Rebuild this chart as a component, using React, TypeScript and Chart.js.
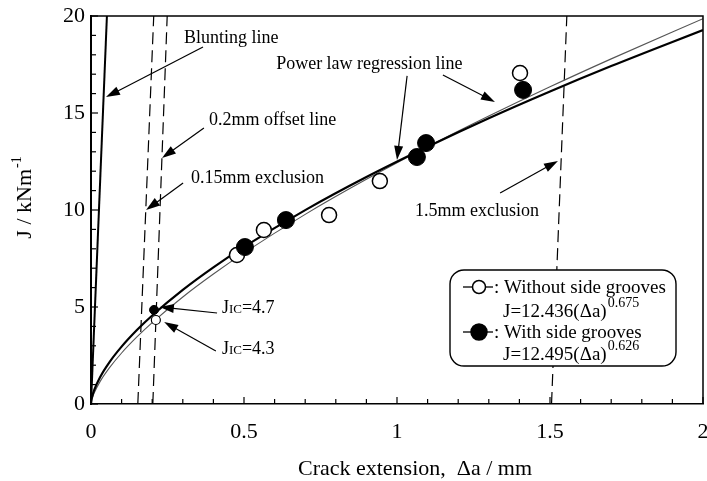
import { useEffect, useRef } from "react";
import { Chart, registerables } from "chart.js";

Chart.register(...registerables);

const FONT = "'Liberation Serif', 'Times New Roman', serif";

// Measured data (Δa in mm, J in kN/m)
const openX = [0.477, 0.565, 0.778, 0.944, 1.402];
const openJ = [7.68, 8.97, 9.74, 11.49, 17.06];
const filledX = [0.503, 0.637, 1.065, 1.095, 1.412];
const filledJ = [8.09, 9.48, 12.73, 13.45, 16.19];

// J_IC points
const jicOpenX = [0.212];
const jicOpenJ = [4.33];
const jicFilledX = [0.206];
const jicFilledJ = [4.85];

// Power-law regression curves
const curveX = [0, 0.001, 0.003, 0.01, 0.03, 0.06, 0.1, 0.15, 0.2, 0.3, 0.4, 0.5, 0.7, 0.9, 1.1, 1.3, 1.5, 1.7, 2.0];
const fitOpenJ = [0, 0.117, 0.246, 0.556, 1.166, 1.862, 2.629, 3.455, 4.196, 5.518, 6.699, 7.789, 9.775, 11.58, 13.26, 14.84, 16.35, 17.79, 19.86];
const fitFilledJ = [0, 0.165, 0.328, 0.699, 1.392, 2.148, 2.956, 3.811, 4.562, 5.88, 7.041, 8.097, 9.995, 11.7, 13.26, 14.73, 16.11, 17.42, 19.28];

// Construction lines
const bluntX = [0, 0.052];
const bluntJ = [0, 20];
const excl015X = [0.153, 0.205];
const offset02X = [0.202, 0.249];
const excl15X = [1.505, 1.555];
const fullJ = [0, 20];

// Axes
const xTickValues = [0, 0.5, 1, 1.5, 2];
const xTickLabels = ["0", "0.5", "1", "1.5", "2"];
const yTickValues = [0, 5, 10, 15, 20];
const yTickLabels = ["0", "5", "10", "15", "20"];

// Annotations (data coordinates)
const labelTexts = ["Blunting line", "Power law regression line", "0.2mm offset line", "0.15mm exclusion", "1.5mm exclusion"];
const labelX = [0.304, 0.605, 0.386, 0.327, 1.059];
const labelJ = [18.87, 17.53, 14.64, 11.65, 9.95];

const arrowFromX = [0.366, 1.033, 1.15, 0.369, 0.301, 1.337, 0.412, 0.408];
const arrowFromJ = [18.4, 16.91, 16.96, 14.23, 11.39, 10.88, 4.69, 2.73];
const arrowToX = [0.049, 1.0, 1.32, 0.232, 0.18, 1.526, 0.225, 0.239];
const arrowToJ = [15.82, 12.58, 15.57, 12.68, 10.0, 12.53, 5.0, 4.23];

const jicValues = ["4.7", "4.3"];
const jicLabelX = [0.428, 0.428];
const jicLabelJ = [5.0, 2.89];

const legendLines = ["Without side grooves", "With side grooves"];
const legendEqBase = ["J=12.436(Δa)", "J=12.495(Δa)"];
const legendEqExp = ["0.675", "0.626"];

const pts = (xs: number[], ys: number[]) => xs.map((x, i) => ({ x, y: ys[i] }));

const decoPlugin = {
  id: "deco",
  afterDatasetsDraw(chart: any) {
    const ctx: CanvasRenderingContext2D = chart.ctx;
    const xs = chart.scales.x;
    const ys = chart.scales.y;
    const ca = chart.chartArea;
    const px = (v: number) => xs.getPixelForValue(v);
    const py = (v: number) => ys.getPixelForValue(v);
    ctx.save();

    // frame top & right
    ctx.strokeStyle = "#000";
    ctx.lineWidth = 1.5;
    ctx.beginPath();
    ctx.moveTo(ca.left, ca.top);
    ctx.lineTo(ca.right, ca.top);
    ctx.lineTo(ca.right, ca.bottom);
    ctx.stroke();

    // inward ticks
    ctx.lineWidth = 1.2;
    for (let i = 0; i <= 20; i++) {
      const v = i / 10;
      const x = px(v);
      const len = i % 5 === 0 ? 7 : 5;
      ctx.beginPath();
      ctx.moveTo(x, ca.bottom);
      ctx.lineTo(x, ca.bottom - len);
      ctx.stroke();
    }
    for (let j = 0; j <= 20; j++) {
      const y = py(j);
      const len = j % 5 === 0 ? 7 : 5;
      ctx.beginPath();
      ctx.moveTo(ca.left, y);
      ctx.lineTo(ca.left + len, y);
      ctx.stroke();
    }

    // arrows
    ctx.fillStyle = "#000";
    for (let i = 0; i < arrowFromX.length; i++) {
      const x1 = px(arrowFromX[i]), y1 = py(arrowFromJ[i]);
      const x2 = px(arrowToX[i]), y2 = py(arrowToJ[i]);
      const ang = Math.atan2(y2 - y1, x2 - x1);
      const L = 14, W = 4.5;
      ctx.lineWidth = 1.2;
      ctx.beginPath();
      ctx.moveTo(x1, y1);
      ctx.lineTo(x2 - Math.cos(ang) * L * 0.8, y2 - Math.sin(ang) * L * 0.8);
      ctx.stroke();
      const bx = x2 - Math.cos(ang) * L, by = y2 - Math.sin(ang) * L;
      ctx.beginPath();
      ctx.moveTo(x2, y2);
      ctx.lineTo(bx + Math.sin(ang) * W, by - Math.cos(ang) * W);
      ctx.lineTo(bx - Math.sin(ang) * W, by + Math.cos(ang) * W);
      ctx.closePath();
      ctx.fill();
    }

    // text labels
    ctx.font = `18px ${FONT}`;
    ctx.textAlign = "left";
    ctx.textBaseline = "middle";
    for (let i = 0; i < labelTexts.length; i++) {
      ctx.fillText(labelTexts[i], px(labelX[i]), py(labelJ[i]));
    }

    // J_IC labels
    ctx.textBaseline = "alphabetic";
    for (let i = 0; i < jicValues.length; i++) {
      let x = px(jicLabelX[i]);
      const base = py(jicLabelJ[i]) + 6;
      ctx.font = `18px ${FONT}`;
      ctx.fillText("J", x, base);
      x += ctx.measureText("J").width;
      ctx.font = `13px ${FONT}`;
      ctx.fillText("IC", x, base);
      x += ctx.measureText("IC").width;
      ctx.font = `18px ${FONT}`;
      ctx.fillText("=" + jicValues[i], x, base);
    }

    // legend box
    const lx = ca.left + 359, ly = ca.top + 254, lw = 226, lh = 96;
    ctx.beginPath();
    (ctx as any).roundRect(lx, ly, lw, lh, 14);
    ctx.fillStyle = "#fff";
    ctx.fill();
    ctx.lineWidth = 1.4;
    ctx.strokeStyle = "#000";
    ctx.stroke();
    ctx.fillStyle = "#000";

    const rows = [
      { my: ly + 17, base: ly + 23, eqBase: ly + 47, r: 6.5, filled: false },
      { my: ly + 62, base: ly + 68, eqBase: ly + 90, r: 8, filled: true },
    ];
    rows.forEach((row, i) => {
      const mx = lx + 29;
      ctx.lineWidth = 1.3;
      ctx.beginPath();
      ctx.moveTo(lx + 13, row.my);
      ctx.lineTo(lx + 43, row.my);
      ctx.stroke();
      ctx.beginPath();
      ctx.arc(mx, row.my, row.r, 0, Math.PI * 2);
      ctx.fillStyle = row.filled ? "#000" : "#fff";
      ctx.fill();
      ctx.lineWidth = 1.5;
      ctx.stroke();
      ctx.fillStyle = "#000";
      ctx.font = `19px ${FONT}`;
      ctx.fillText(": " + legendLines[i], lx + 44, row.base);
      ctx.fillText(legendEqBase[i], lx + 53, row.eqBase);
      const w = ctx.measureText(legendEqBase[i]).width;
      ctx.font = `14px ${FONT}`;
      ctx.fillText(legendEqExp[i], lx + 53 + w + 1, row.eqBase - 10);
    });

    // axis titles
    ctx.font = `22px ${FONT}`;
    ctx.textAlign = "center";
    ctx.textBaseline = "alphabetic";
    ctx.fillText("Crack extension,  Δa / mm", 415, ca.bottom + 71);

    ctx.save();
    ctx.translate(24, (ca.top + ca.bottom) / 2 - 12);
    ctx.rotate(-Math.PI / 2);
    ctx.font = `22px ${FONT}`;
    const t1 = "J / kNm";
    const w1 = ctx.measureText(t1).width;
    ctx.font = `14px ${FONT}`;
    const t2 = "-1";
    const w2 = ctx.measureText(t2).width;
    const start = -(w1 + w2) / 2;
    ctx.textAlign = "left";
    ctx.font = `22px ${FONT}`;
    ctx.fillText(t1, start, 7);
    ctx.font = `14px ${FONT}`;
    ctx.fillText(t2, start + w1 + 1, -3);
    ctx.restore();

    ctx.restore();
  },
};

export default function App() {
  const ref = useRef<HTMLCanvasElement>(null);
  useEffect(() => {
    const lineDs = (data: any[], opts: any) => ({
      data,
      showLine: true,
      pointRadius: 0,
      borderColor: "#000",
      borderWidth: 1.2,
      fill: false,
      ...opts,
    });
    const chart = new Chart(ref.current as HTMLCanvasElement, {
      type: "scatter",
      data: {
        datasets: [
          {
            data: pts(jicFilledX, jicFilledJ),
            pointRadius: 4.5,
            pointBackgroundColor: "#000",
            pointBorderColor: "#000",
            pointBorderWidth: 1,
          },
          {
            data: pts(jicOpenX, jicOpenJ),
            pointRadius: 4.5,
            pointBackgroundColor: "#fff",
            pointBorderColor: "#000",
            pointBorderWidth: 1.2,
          },
          {
            data: pts(filledX, filledJ),
            pointRadius: 8.5,
            pointBackgroundColor: "#000",
            pointBorderColor: "#000",
            pointBorderWidth: 1,
          },
          {
            data: pts(openX, openJ),
            pointRadius: 7.5,
            pointBackgroundColor: "#fff",
            pointBorderColor: "#000",
            pointBorderWidth: 1.5,
          },
          lineDs(pts(curveX, fitFilledJ), { borderWidth: 2.2, cubicInterpolationMode: "monotone" }),
          lineDs(pts(curveX, fitOpenJ), { borderWidth: 1.1, borderColor: "#555", cubicInterpolationMode: "monotone" }),
          lineDs(pts(bluntX, bluntJ), { borderWidth: 2 }),
          lineDs(pts(excl015X, fullJ), { borderDash: [12, 6] }),
          lineDs(pts(offset02X, fullJ), { borderDash: [12, 6] }),
          lineDs(pts(excl15X, fullJ), { borderDash: [12, 6] }),
        ],
      },
      options: {
        responsive: false,
        animation: false,
        devicePixelRatio: 1,
        layout: { autoPadding: false, padding: { top: 16, right: 4, left: 0, bottom: 0 } },
        plugins: { legend: { display: false }, tooltip: { enabled: false } },
        scales: {
          x: {
            type: "linear",
            min: 0,
            max: 2,
            afterBuildTicks: (s: any) => {
              s.ticks = xTickValues.map((v) => ({ value: v }));
            },
            afterFit: (s: any) => {
              s.height = 77;
              s.paddingLeft = 0;
              s.paddingRight = 0;
            },
            ticks: {
              color: "#000",
              font: { family: FONT, size: 22 },
              padding: 0,
              maxRotation: 0,
              callback: (v: any) => xTickLabels[xTickValues.indexOf(Number(v))] ?? "",
            },
            grid: { display: false, drawTicks: true, tickLength: 15 },
            border: { display: true, color: "#000", width: 1.5 },
          },
          y: {
            type: "linear",
            min: 0,
            max: 20,
            afterBuildTicks: (s: any) => {
              s.ticks = yTickValues.map((v) => ({ value: v }));
            },
            afterFit: (s: any) => {
              s.width = 91;
              s.paddingTop = 0;
              s.paddingBottom = 0;
            },
            ticks: {
              color: "#000",
              font: { family: FONT, size: 22 },
              padding: 6,
              callback: (v: any) => yTickLabels[yTickValues.indexOf(Number(v))] ?? "",
            },
            grid: { display: false, drawTicks: false },
            border: { display: true, color: "#000", width: 2 },
          },
        },
      },
      plugins: [decoPlugin],
    } as any);
    return () => chart.destroy();
  }, []);
  return (
    <canvas
      ref={ref}
      width={707}
      height={481}
      style={{ position: "fixed", left: 0, top: 0, width: 707, height: 481, background: "#fff" }}
    />
  );
}
